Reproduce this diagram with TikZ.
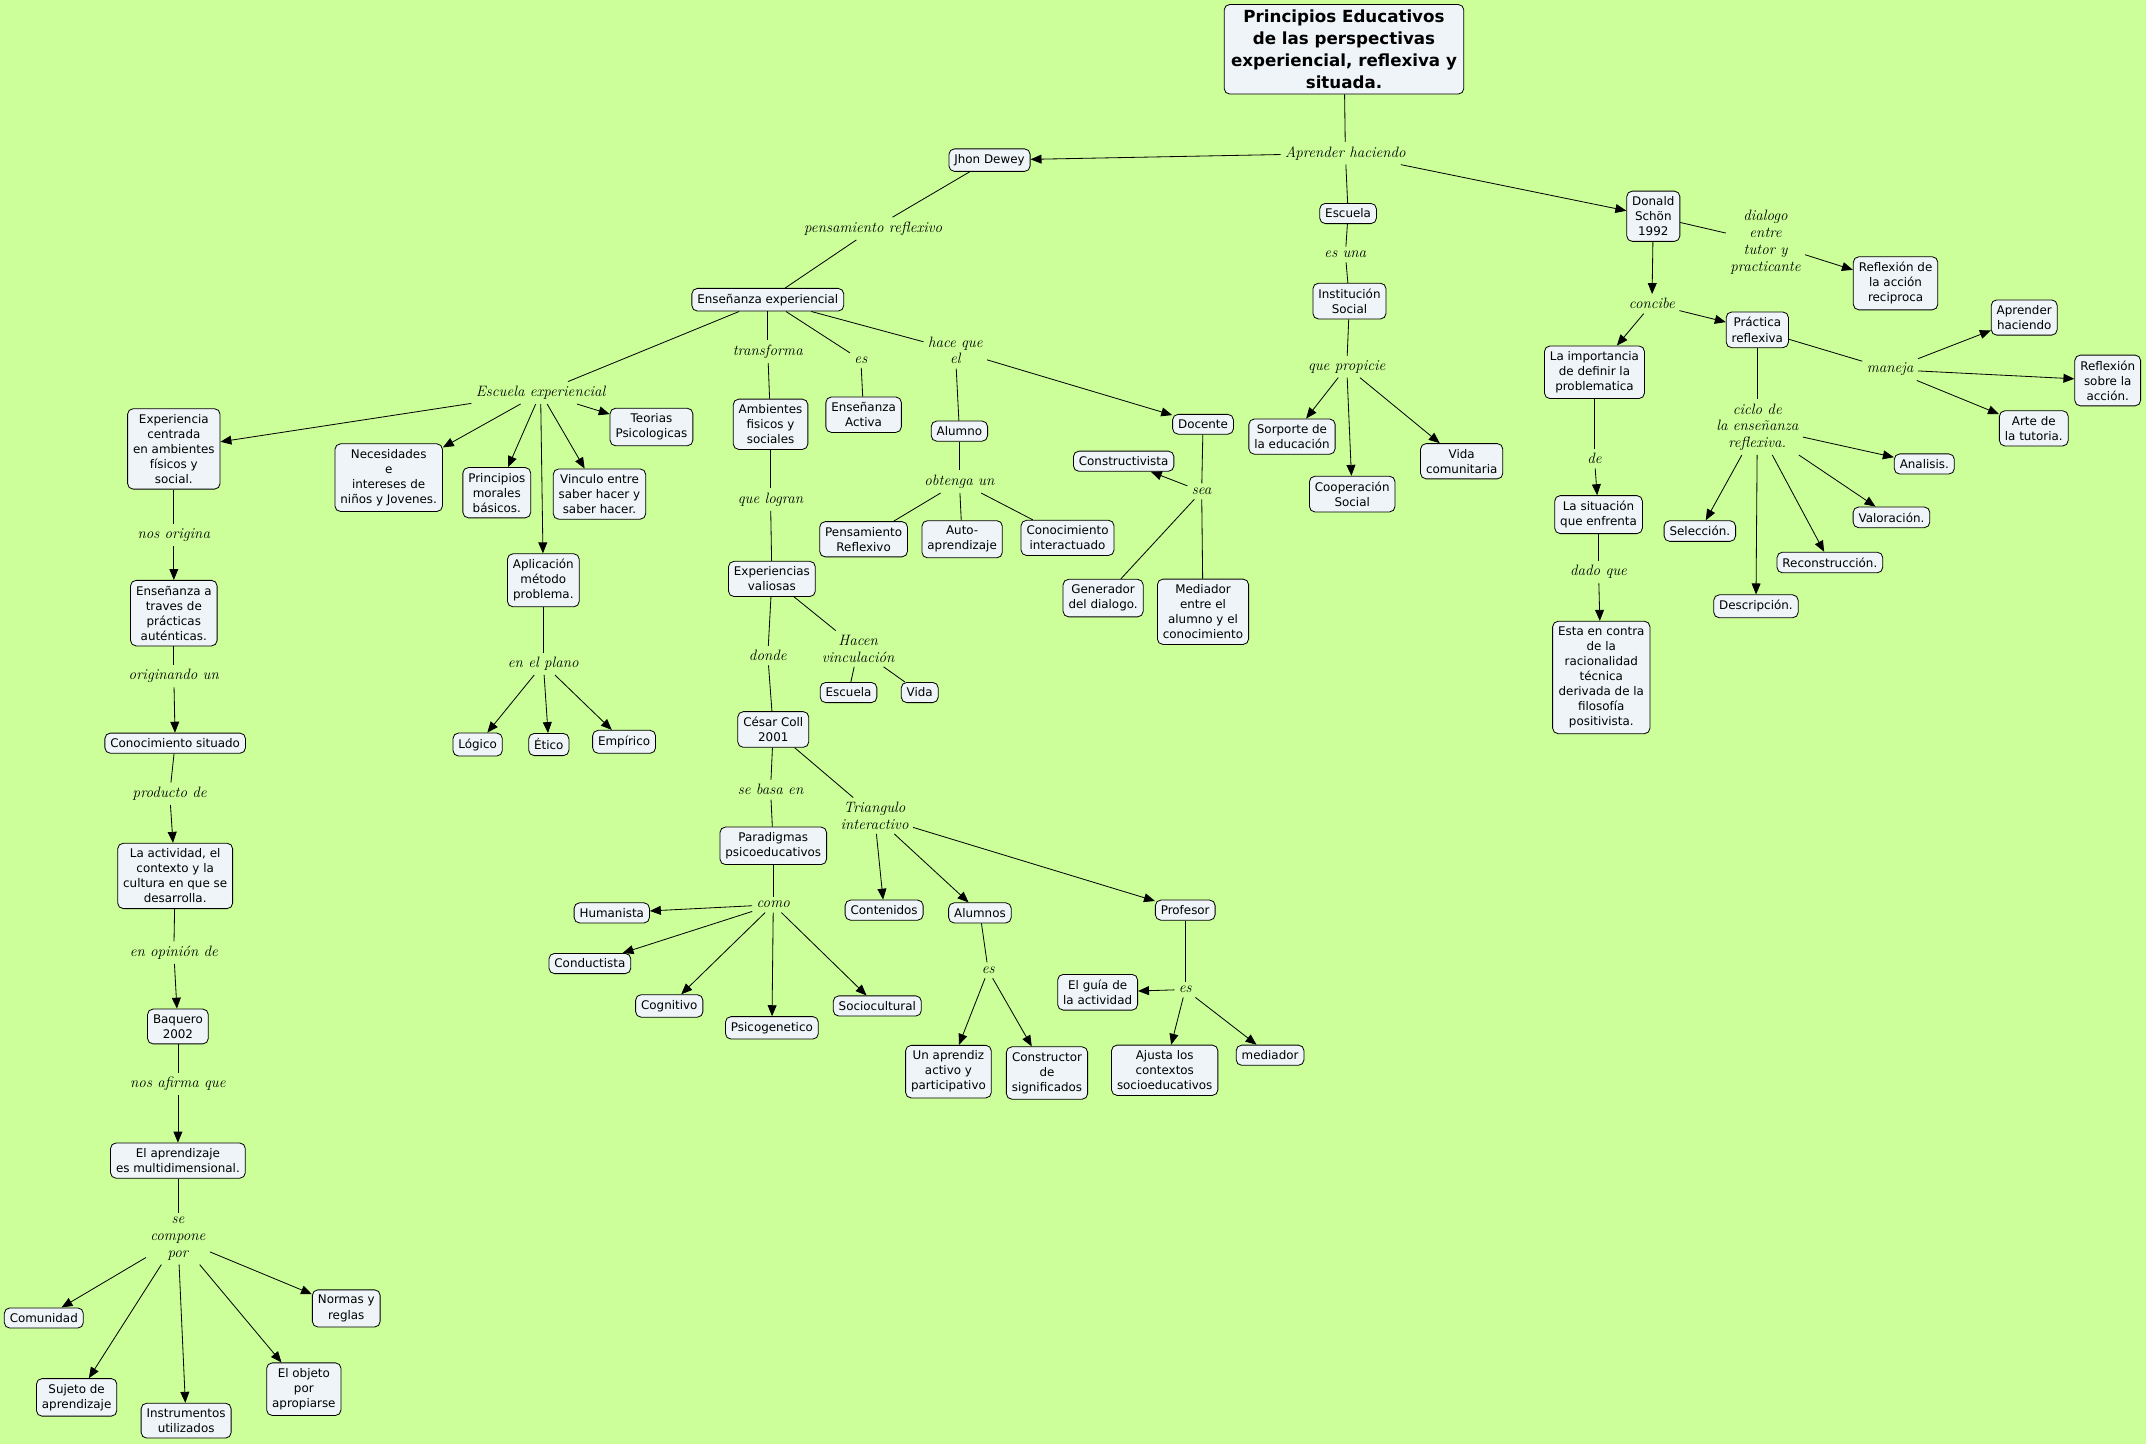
\documentclass[tikz,border=0pt]{standalone}
\usepackage{fontspec}
\setsansfont{DejaVu Sans}
\usetikzlibrary{arrows.meta}
\definecolor{fondo}{RGB}{204,255,153}
\definecolor{caja}{RGB}{238,244,247}

\begin{document}
\begin{tikzpicture}[x=1pt,y=-1pt,line width=0.6pt,
  box/.style={draw, rounded corners=4pt, fill=caja, align=center, inner xsep=4pt, inner ysep=4pt, font=\sffamily\fontsize{8.7}{11}\selectfont},
  lbl/.style={align=center, inner sep=3pt, font=\itshape\fontsize{11}{12.2}\selectfont},
  arr/.style={-{Triangle[length=8pt,width=6.5pt]}}]
\useasboundingbox (0,0) rectangle (1568,1055);
\fill [fondo] (0,0) rectangle (1568,1055);

% raiz
\node [box, font=\sffamily\bfseries\fontsize{12.2}{16}\selectfont, inner xsep=5pt, inner ysep=4pt] (titulo) at (982,36) {Principios Educativos\\de las perspectivas\\experiencial, reflexiva y\\situada.};
\node [lbl] (aprender) at (983,112) {Aprender haciendo};
\draw (titulo) -- (aprender);

% Dewey
\node [box] (dewey) at (723,117) {Jhon Dewey};
\node [lbl] (pensref) at (638,167) {pensamiento reflexivo};
\node [box] (ensexp) at (561,219) {Enseñanza experiencial};
\node [lbl] (escexp) at (395,287) {Escuela experiencial};
\node [box] (expcen) at (127,328) {Experiencia\\centrada\\en ambientes\\físicos y\\social.};
\node [box] (necesid) at (284,349) {Necesidades\\e\\intereses de\\niños y Jovenes.};
\node [box] (princ) at (363,360) {Principios\\morales\\básicos.};
\node [box] (aplic) at (397,424) {Aplicación\\método\\problema.};
\node [box] (vinculo) at (438,361) {Vinculo entre\\saber hacer y\\saber hacer.};
\node [box] (teorias) at (476,312) {Teorias\\Psicologicas};
\node [lbl] (enplano) at (397,485) {en el plano};
\node [box] (logico) at (349,544) {Lógico};
\node [box] (etico) at (401,544) {Ético};
\node [box] (empirico) at (456,542) {Empírico};

% columna izquierda
\node [lbl] (nosorig) at (127,391) {nos origina};
\node [box] (ensprac) at (127,448) {Enseñanza a\\traves de\\prácticas\\auténticas.};
\node [lbl] (origun) at (127,494) {originando un};
\node [box] (consit) at (128,543) {Conocimiento situado};
\node [lbl] (prodde) at (124,580) {producto de};
\node [box] (activ) at (128,640) {La actividad, el\\contexto y la\\cultura en que se\\desarrolla.};
\node [lbl] (enop) at (127,696) {en opinión de};
\node [box] (baquero) at (130,750) {Baquero\\2002};
\node [lbl] (nosaf) at (130,792) {nos afirma que};
\node [box] (aprmult) at (130,848) {El aprendizaje\\es multidimensional.};
\node [lbl] (secomp) at (130,905) {se\\compone\\por};
\node [box] (comunidad) at (32,963) {Comunidad};
\node [box] (sujeto) at (56,1021) {Sujeto de\\aprendizaje};
\node [box] (instr) at (136,1038) {Instrumentos\\utilizados};
\node [box] (objeto) at (222,1015) {El objeto\\por\\apropiarse};
\node [box] (normas) at (253,956) {Normas y\\reglas};

% centro
\node [lbl] (transf) at (561,257) {transforma};
\node [box] (ambientes) at (563,310) {Ambientes\\fisicos y\\sociales};
\node [lbl] (quelog) at (563,365) {que logran};
\node [box] (expval) at (564,423) {Experiencias\\valiosas};
\node [lbl] (esact) at (629,263) {es};
\node [box] (ensact) at (631,303) {Enseñanza\\Activa};
\node [lbl] (hace) at (698,256) {hace que\\el};
\node [box] (alumno) at (701,315) {Alumno};
\node [lbl] (obtenga) at (701,352) {obtenga un};
\node [box] (pensr) at (631,394) {Pensamiento\\Reflexivo};
\node [box] (auto) at (703,394) {Auto-\\aprendizaje};
\node [box] (conint) at (780,393) {Conocimiento\\interactuado};
\node [box] (docente) at (879,310) {Docente};
\node [lbl] (sea) at (878,359) {sea};
\node [box] (constr) at (821,337) {Constructivista};
\node [box] (gener) at (806,437) {Generador\\del dialogo.};
\node [box] (mediad) at (879,447) {Mediador\\entre el\\alumno y el\\conocimiento};
\node [lbl] (hacen) at (627,474) {Hacen\\vinculación};
\node [box] (escvida1) at (620,506) {Escuela};
\node [box] (escvida2) at (672,506) {Vida};
\node [lbl] (donde) at (561,479) {donde};
\node [box] (coll) at (565,533) {César Coll\\2001};
\node [lbl] (sebasa) at (563,577) {se basa en};
\node [box] (parad) at (565,618) {Paradigmas\\psicoeducativos};
\node [lbl] (como) at (565,661) {como};
\node [box] (humanista) at (447,667) {Humanista};
\node [box] (conductista) at (431,704) {Conductista};
\node [box] (cognitivo) at (489,735) {Cognitivo};
\node [box] (psicogen) at (564,751) {Psicogenetico};
\node [box] (sociocult) at (641,735) {Sociocultural};
\node [lbl] (triang) at (639,596) {Triangulo\\interactivo};
\node [box] (contenidos) at (646,665) {Contenidos};
\node [box] (alumnos) at (716,667) {Alumnos};
\node [box] (profesor) at (866,665) {Profesor};
\node [lbl] (esalum) at (722,709) {es};
\node [box] (aprendiz) at (693,783) {Un aprendiz\\activo y\\participativo};
\node [box] (constructor) at (765,784) {Constructor\\de\\significados};
\node [lbl] (esprof) at (866,723) {es};
\node [box] (guia) at (802,725) {El guía de\\la actividad};
\node [box] (ajusta) at (851,782) {Ajusta los\\contextos\\socioeducativos};
\node [box] (mediador) at (928,771) {mediador};

% escuela
\node [box] (escuela) at (985,156) {Escuela};
\node [lbl] (esuna) at (983,186) {es una};
\node [box] (instit) at (986,220) {Institución\\Social};
\node [lbl] (propicie) at (984,268) {que propicie};
\node [box] (soporte) at (944,319) {Sorporte de\\la educación};
\node [box] (coop) at (988,361) {Cooperación\\Social};
\node [box] (vidacom) at (1068,337) {Vida\\comunitaria};

% Schon
\node [box] (schon) at (1208,158) {Donald\\Schön\\1992};
\node [lbl] (dialogo) at (1290,177) {dialogo\\entre\\tutor y\\practicante};
\node [box] (recip) at (1385,207) {Reflexión de\\la acción\\reciproca};
\node [lbl] (concibe) at (1207,222) {concibe};
\node [box] (importancia) at (1165,272) {La importancia\\de definir la\\problematica};
\node [lbl] (de) at (1165,335) {de};
\node [box] (situacion) at (1168,376) {La situación\\que enfrenta};
\node [lbl] (dado) at (1168,418) {dado que};
\node [box] (contra) at (1170,495) {Esta en contra\\de la\\racionalidad\\técnica\\derivada de la\\filosofía\\positivista.};
\node [box] (practica) at (1284,241) {Práctica\\reflexiva};
\node [lbl] (maneja) at (1381,270) {maneja};
\node [box] (aprhac) at (1479,232) {Aprender\\haciendo};
\node [box] (reflsob) at (1540,278) {Reflexión\\sobre la\\acción.};
\node [box] (arte) at (1486,313) {Arte de\\la tutoria.};
\node [lbl] (ciclo) at (1284,312) {ciclo de\\la enseñanza\\reflexiva.};
\node [box] (analisis) at (1406,339) {Analisis.};
\node [box] (seleccion) at (1242,388) {Selección.};
\node [box] (descr) at (1283,443) {Descripción.};
\node [box] (reconst) at (1337,411) {Reconstrucción.};
\node [box] (valor) at (1382,378) {Valoración.};

% enlaces
\draw [arr] (aprender) -- (dewey);
\draw (aprender) -- (escuela);
\draw [arr] (aprender) -- (schon);
\draw (dewey) -- (pensref);
\draw (pensref) -- (ensexp);
\draw (ensexp) -- (escexp);
\draw (ensexp) -- (transf);
\draw (ensexp) -- (esact);
\draw (ensexp) -- (hace);
\draw [arr] (escexp) -- (expcen);
\draw [arr] (escexp) -- (necesid);
\draw [arr] (escexp) -- (princ);
\draw [arr] (escexp) -- (aplic);
\draw [arr] (escexp) -- (vinculo);
\draw [arr] (escexp) -- (teorias);
\draw (aplic) -- (enplano);
\draw [arr] (enplano) -- (logico);
\draw [arr] (enplano) -- (etico);
\draw [arr] (enplano) -- (empirico);

\draw (expcen) -- (nosorig);
\draw [arr] (nosorig) -- (ensprac);
\draw (ensprac) -- (origun);
\draw [arr] (origun) -- (consit);
\draw (consit) -- (prodde);
\draw [arr] (prodde) -- (activ);
\draw (activ) -- (enop);
\draw [arr] (enop) -- (baquero);
\draw (baquero) -- (nosaf);
\draw [arr] (nosaf) -- (aprmult);
\draw (aprmult) -- (secomp);
\foreach \n in {comunidad,sujeto,instr,objeto,normas}
  \draw [arr] (secomp) -- (\n);

\draw (transf) -- (ambientes);
\draw (ambientes) -- (quelog);
\draw (quelog) -- (expval);
\draw (esact) -- (ensact);
\draw (hace) -- (alumno);
\draw [arr] (hace) -- (docente);
\draw (alumno) -- (obtenga);
\draw (obtenga) -- (pensr);
\draw (obtenga) -- (auto);
\draw (obtenga) -- (conint);
\draw (docente) -- (sea);
\draw [arr] (sea) -- (constr);
\draw (sea) -- (gener);
\draw (sea) -- (mediad);
\draw (expval) -- (hacen);
\draw (hacen) -- (escvida1);
\draw (hacen) -- (escvida2);
\draw (expval) -- (donde);
\draw (donde) -- (coll);
\draw (coll) -- (sebasa);
\draw (sebasa) -- (parad);
\draw (parad) -- (como);
\foreach \n in {humanista,conductista,cognitivo,psicogen,sociocult}
  \draw [arr] (como) -- (\n);
\draw (coll) -- (triang);
\foreach \n in {contenidos,alumnos,profesor}
  \draw [arr] (triang) -- (\n);
\draw (alumnos) -- (esalum);
\draw [arr] (esalum) -- (aprendiz);
\draw [arr] (esalum) -- (constructor);
\draw (profesor) -- (esprof);
\foreach \n in {guia,ajusta,mediador}
  \draw [arr] (esprof) -- (\n);

\draw (escuela) -- (esuna);
\draw (esuna) -- (instit);
\draw (instit) -- (propicie);
\foreach \n in {soporte,coop,vidacom}
  \draw [arr] (propicie) -- (\n);

\draw (schon) -- (dialogo);
\draw [arr] (dialogo) -- (recip);
\draw [arr] (schon) -- (concibe);
\draw [arr] (concibe) -- (importancia);
\draw [arr] (concibe) -- (practica);
\draw (importancia) -- (de);
\draw [arr] (de) -- (situacion);
\draw (situacion) -- (dado);
\draw [arr] (dado) -- (contra);
\draw (practica) -- (maneja);
\foreach \n in {aprhac,reflsob,arte}
  \draw [arr] (maneja) -- (\n);
\draw (practica) -- (ciclo);
\foreach \n in {analisis,seleccion,descr,reconst,valor}
  \draw [arr] (ciclo) -- (\n);

\end{tikzpicture}
\end{document}
